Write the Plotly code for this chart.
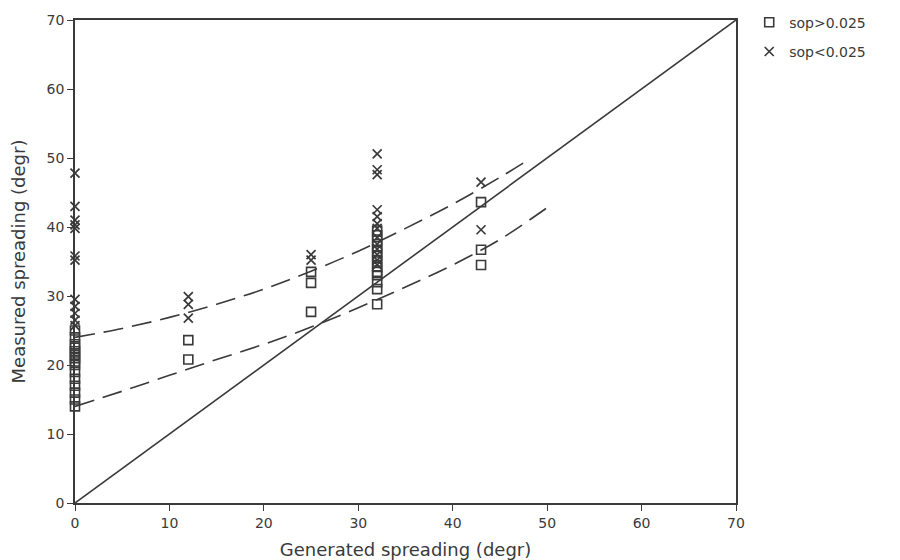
import plotly.graph_objects as go

# --- data ---
sq_x = [0]*15 + [12, 12] + [25, 25, 25] + [32]*13 + [43, 43, 43]
sq_y = [25, 24, 23, 22.5, 22, 21.5, 21, 20.5, 20, 19, 18, 17, 16, 15, 14,
        23.6, 20.8,
        33.5, 31.9, 27.7,
        39.5, 38.8, 38, 37.2, 36.5, 35.8, 35, 34.2, 33.5, 33, 32, 31, 28.8,
        43.6, 36.7, 34.5]

cr_x = [0]*12 + [12, 12, 12] + [25, 25] + [32]*13 + [43, 43]
cr_y = [47.8, 43, 41, 40.3, 39.8, 35.8, 35.2, 29.5, 28.5, 27.5, 26.5, 25.7,
        29.9, 28.8, 26.8,
        36, 35.2,
        50.6, 48.3, 47.6, 42.5, 41.5, 40.5, 39.8, 38.5, 37.5, 36.8, 36, 35.2, 34.5,
        46.5, 39.6]

diag_x = [0, 70]
diag_y = [0, 70]

upper_x = [0, 5, 10, 15, 20, 25, 30, 35, 40, 45, 47.5]
upper_y = [24.0, 25.3, 26.9, 28.8, 31.0, 33.6, 36.5, 39.8, 43.3, 47.2, 49.3]

lower_x = [0, 5, 10, 15, 20, 25, 30, 35, 40, 45, 50]
lower_y = [14.0, 16.2, 18.5, 20.8, 23.0, 25.5, 28.3, 31.3, 34.5, 38.2, 42.8]

ticks = [0, 10, 20, 30, 40, 50, 60, 70]

INK = "#3a3a3a"
FONT = "DejaVu Sans"

fig = go.Figure()

fig.add_trace(go.Scatter(x=diag_x, y=diag_y, mode="lines",
                         line=dict(color=INK, width=1.6), showlegend=False,
                         hoverinfo="skip"))
fig.add_trace(go.Scatter(x=upper_x, y=upper_y, mode="lines",
                         line=dict(color=INK, width=1.6, dash="20px,9px", shape="spline"),
                         showlegend=False, hoverinfo="skip"))
fig.add_trace(go.Scatter(x=lower_x, y=lower_y, mode="lines",
                         line=dict(color=INK, width=1.6, dash="20px,9px", shape="spline"),
                         showlegend=False, hoverinfo="skip"))

fig.add_trace(go.Scatter(x=sq_x, y=sq_y, mode="markers", name="sop>0.025",
                         legendgroup="a", cliponaxis=False,
                         marker=dict(symbol="square-open", size=9, color=INK,
                                     line=dict(width=1.6, color=INK))))
fig.add_trace(go.Scatter(x=cr_x, y=cr_y, mode="markers", name="sop<0.025",
                         legendgroup="b", cliponaxis=False,
                         marker=dict(symbol="x-thin-open", size=9, color=INK,
                                     line=dict(width=1.7, color=INK))))

axis_common = dict(range=[0, 70], tickvals=ticks, showgrid=False, zeroline=False,
                   showline=True, linecolor=INK, linewidth=1.6, mirror=True,
                   ticks="outside", ticklen=6, tickwidth=1.4, tickcolor=INK,
                   automargin=False,
                   tickfont=dict(family=FONT, size=14, color=INK))

fig.update_xaxes(**axis_common,
                 title=dict(text="Generated spreading (degr)", standoff=14,
                            font=dict(family=FONT, size=18, color=INK)))
fig.update_yaxes(**axis_common,
                 title=dict(text="Measured spreading (degr)", standoff=16,
                            font=dict(family=FONT, size=18, color=INK)))

fig.update_layout(
    width=900, height=560,
    margin=dict(l=75, r=164, t=20, b=57, autoexpand=False),
    paper_bgcolor="white", plot_bgcolor="white",
    font=dict(family=FONT, color=INK),
    legend=dict(x=1.02, xanchor="left", yref="container", y=0.988, yanchor="top",
                traceorder="grouped", tracegroupgap=8,
                font=dict(family=FONT, size=14, color=INK),
                bgcolor="rgba(0,0,0,0)"),
)

fig.write_html("out.html")
